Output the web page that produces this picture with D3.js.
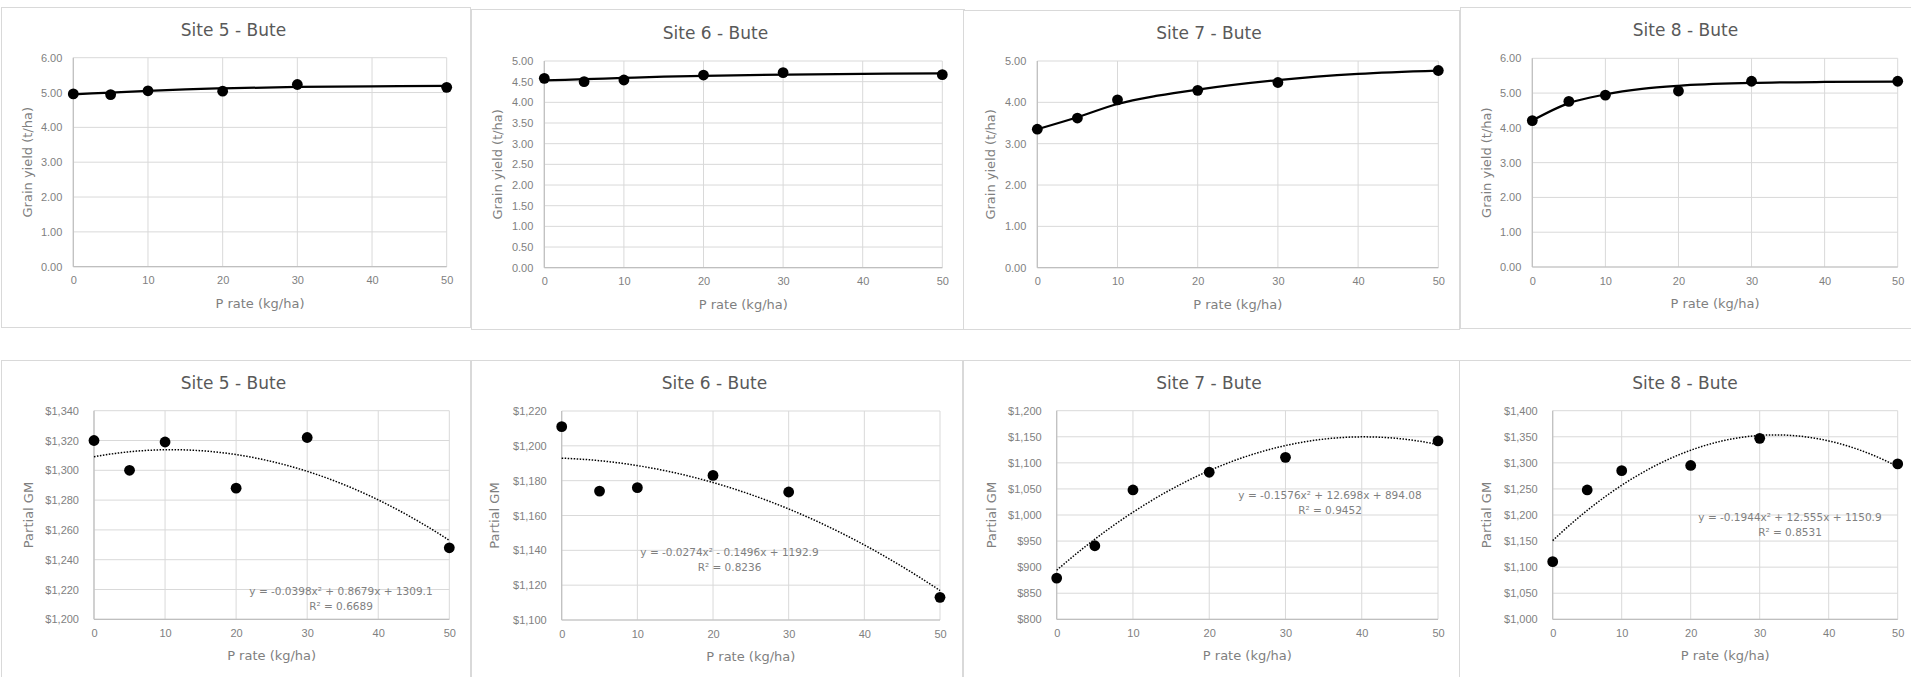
<!DOCTYPE html>
<html>
<head>
<meta charset="utf-8">
<script src="https://cdn.jsdelivr.net/npm/d3@7"></script>
<style>
  body { margin: 0; background: #fff; }
  svg { display: block; font-family: "Century Gothic", "DejaVu Sans", sans-serif; }
</style>
</head>
<body>
<svg id="chart" width="1911" height="677"></svg>
<script>
// ---- data ----
const pRates = [0, 5, 10, 20, 30, 50];
const xTicks = [0, 10, 20, 30, 40, 50];
const fitRates = [0, 5, 10, 15, 20, 30, 40, 50];

const siteNames = ["Site 5 - Bute", "Site 6 - Bute", "Site 7 - Bute", "Site 8 - Bute"];

// grain yield (t/ha)
const yieldSite5 = [4.96, 4.94, 5.05, 5.04, 5.23, 5.15];
const yieldSite6 = [4.58, 4.50, 4.54, 4.66, 4.72, 4.67];
const yieldSite7 = [3.35, 3.62, 4.06, 4.29, 4.48, 4.77];
const yieldSite8 = [4.21, 4.76, 4.94, 5.06, 5.34, 5.34];

// fitted response curve, read at fitRates
const yieldFitSite5 = [4.95, 5.00, 5.05, 5.09, 5.12, 5.16, 5.18, 5.19];
const yieldFitSite6 = [4.53, 4.56, 4.59, 4.62, 4.64, 4.67, 4.69, 4.70];
const yieldFitSite7 = [3.35, 3.64, 3.96, 4.16, 4.31, 4.54, 4.69, 4.77];
const yieldFitSite8 = [4.21, 4.71, 4.96, 5.12, 5.21, 5.29, 5.32, 5.33];

const yTicksYield5 = [0, 1, 2, 3, 4, 5, 6];
const yTicksYield6 = [0, 0.5, 1, 1.5, 2, 2.5, 3, 3.5, 4, 4.5, 5];
const yTicksYield7 = [0, 1, 2, 3, 4, 5];
const yTicksYield8 = [0, 1, 2, 3, 4, 5, 6];

// partial gross margin ($/ha)
const gmSite5 = [1320, 1300, 1319, 1288, 1322, 1248];
const gmSite6 = [1211, 1174, 1176, 1183, 1173.5, 1113];
const gmSite7 = [879, 941, 1048, 1082, 1110.5, 1142];
const gmSite8 = [1110.5, 1248, 1285, 1295, 1347, 1298];

const yTicksGm5 = [1200, 1220, 1240, 1260, 1280, 1300, 1320, 1340];
const yTicksGm6 = [1100, 1120, 1140, 1160, 1180, 1200, 1220];
const yTicksGm7 = [800, 850, 900, 950, 1000, 1050, 1100, 1150, 1200];
const yTicksGm8 = [1000, 1050, 1100, 1150, 1200, 1250, 1300, 1350, 1400];

// polynomial trendlines as printed on the chart (a x^2 + b x + c)
const trendSite5 = [-0.0398, 0.8679, 1309.1];
const trendSite6 = [-0.0274, -0.1496, 1192.9];
const trendSite7 = [-0.1576, 12.698, 894.08];
const trendSite8 = [-0.1944, 12.555, 1150.9];

const eqSite5 = ["y = -0.0398x² + 0.8679x + 1309.1", "R² = 0.6689"];
const eqSite6 = ["y = -0.0274x² - 0.1496x + 1192.9", "R² = 0.8236"];
const eqSite7 = ["y = -0.1576x² + 12.698x + 894.08", "R² = 0.9452"];
const eqSite8 = ["y = -0.1944x² + 12.555x + 1150.9", "R² = 0.8531"];

// ---- layout (pixels) ----
// box: [x0, y0, x1, y1], plot: [left, top, right, bottom]
const topLayout = [
  { box: [1, 7, 470, 327],    plot: [73.3, 57.7, 446.7, 266.7],   titleY: 36, yTitleX: 32,   xTitleY: 307.5 },
  { box: [471, 9, 964, 329],  plot: [544.3, 61, 942.3, 267.7],    titleY: 39, yTitleX: 502,  xTitleY: 309 },
  { box: [963, 10, 1459, 329], plot: [1037.3, 61, 1438.3, 267.7], titleY: 39, yTitleX: 995,  xTitleY: 309 },
  { box: [1460, 7, 1915, 328], plot: [1532.3, 58.3, 1897.7, 267], titleY: 36, yTitleX: 1491, xTitleY: 308 }
];
const bottomLayout = [
  { box: [1, 360, 470, 680],    plot: [94, 410.7, 449.3, 619.3],    titleY: 389, yTitleX: 33,   xTitleY: 660, eqX: 341,  eqY: 594.5 },
  { box: [471, 360, 962, 680],  plot: [561.7, 411, 940, 620],       titleY: 389, yTitleX: 499,  xTitleY: 660.5, eqX: 729.5, eqY: 556 },
  { box: [963, 360, 1459, 680], plot: [1056.7, 410.7, 1438, 619.3], titleY: 389, yTitleX: 995.5, xTitleY: 660, eqX: 1330, eqY: 499 },
  { box: [1459, 360, 1915, 680], plot: [1552.7, 410.7, 1897.7, 619.3], titleY: 389, yTitleX: 1491, xTitleY: 660, eqX: 1790, eqY: 521 }
];

const yieldSeries = [yieldSite5, yieldSite6, yieldSite7, yieldSite8];
const yieldFits = [yieldFitSite5, yieldFitSite6, yieldFitSite7, yieldFitSite8];
const yieldTicks = [yTicksYield5, yTicksYield6, yTicksYield7, yTicksYield8];
const gmSeries = [gmSite5, gmSite6, gmSite7, gmSite8];
const gmTicks = [yTicksGm5, yTicksGm6, yTicksGm7, yTicksGm8];
const trends = [trendSite5, trendSite6, trendSite7, trendSite8];
const equations = [eqSite5, eqSite6, eqSite7, eqSite8];

const svg = d3.select("#chart");
const gridColor = "#d9d9d9";
const tickColor = "#7f7f7f";

// boxes first so neighbouring borders don't cover plots
topLayout.concat(bottomLayout).forEach(l => {
  svg.append("rect")
    .attr("x", l.box[0] + 0.5).attr("y", l.box[1] + 0.5)
    .attr("width", l.box[2] - l.box[0]).attr("height", l.box[3] - l.box[1])
    .attr("fill", "#fff").attr("stroke", gridColor).attr("stroke-width", 1);
});

function drawFrame(l, ticks, fmt, title, yTitle, tickPad) {
  const [pl, pt, pr, pb] = l.plot;
  const x = d3.scaleLinear().domain([0, 50]).range([pl, pr]);
  const y = d3.scaleLinear().domain(d3.extent(ticks)).range([pb, pt]);
  const g = svg.append("g");

  // gridlines
  g.selectAll(".hgrid").data(ticks).join("line")
    .attr("x1", pl).attr("x2", pr)
    .attr("y1", d => y(d)).attr("y2", d => y(d))
    .attr("stroke", gridColor).attr("stroke-width", 1);
  g.selectAll(".vgrid").data(xTicks).join("line")
    .attr("x1", d => x(d)).attr("x2", d => x(d))
    .attr("y1", pt).attr("y2", pb)
    .attr("stroke", gridColor).attr("stroke-width", 1);

  // axis lines
  g.append("line").attr("x1", pl).attr("x2", pr).attr("y1", pb).attr("y2", pb)
    .attr("stroke", "#bfbfbf").attr("stroke-width", 1.2);
  g.append("line").attr("x1", pl).attr("x2", pl).attr("y1", pt).attr("y2", pb)
    .attr("stroke", "#bfbfbf").attr("stroke-width", 1.2);

  // tick labels
  const xAxis = g.append("g").attr("transform", `translate(0,${pb})`)
    .call(d3.axisBottom(x).tickValues(xTicks).tickSize(0).tickPadding(10));
  const yAxis = g.append("g").attr("transform", `translate(${pl},0)`)
    .call(d3.axisLeft(y).tickValues(ticks).tickFormat(fmt).tickSize(0).tickPadding(tickPad));
  [xAxis, yAxis].forEach(a => {
    a.select(".domain").remove();
    a.selectAll("text").attr("fill", tickColor).style("font-size", "11px")
      .style("font-family", "inherit");
  });

  // titles
  svg.append("text").attr("x", (l.box[0] + l.box[2]) / 2 - 2).attr("y", l.titleY)
    .attr("text-anchor", "middle").attr("fill", "#595959").style("font-size", "17px")
    .text(title);
  svg.append("text").attr("x", (pl + pr) / 2).attr("y", l.xTitleY)
    .attr("text-anchor", "middle").attr("fill", tickColor).style("font-size", "13px")
    .text("P rate (kg/ha)");
  svg.append("text")
    .attr("transform", `translate(${l.yTitleX},${(pt + pb) / 2}) rotate(-90)`)
    .attr("text-anchor", "middle").attr("fill", tickColor).style("font-size", "13px")
    .text(yTitle);

  return { x, y, g };
}

// top row: grain yield with fitted response curve
topLayout.forEach((l, i) => {
  const { x, y, g } = drawFrame(l, yieldTicks[i], d3.format(".2f"), siteNames[i], "Grain yield (t/ha)", 11);
  const line = d3.line().x(d => x(d[0])).y(d => y(d[1])).curve(d3.curveMonotoneX);
  g.append("path")
    .datum(fitRates.map((r, k) => [r, yieldFits[i][k]]))
    .attr("d", line).attr("fill", "none").attr("stroke", "#000").attr("stroke-width", 2.25);
  g.selectAll(".pt").data(pRates.map((r, k) => [r, yieldSeries[i][k]])).join("circle")
    .attr("cx", d => x(d[0])).attr("cy", d => y(d[1])).attr("r", 5.4).attr("fill", "#000");
});

// bottom row: partial GM with quadratic trendline
bottomLayout.forEach((l, i) => {
  const { x, y, g } = drawFrame(l, gmTicks[i], d3.format("$,"), siteNames[i], "Partial GM", 15);
  const [a, b, c] = trends[i];
  const trendPts = d3.range(0, 50.01, 0.5).map(r => [r, a * r * r + b * r + c]);
  g.append("path")
    .datum(trendPts)
    .attr("d", d3.line().x(d => x(d[0])).y(d => y(d[1])))
    .attr("fill", "none").attr("stroke", "#000").attr("stroke-width", 1.5)
    .attr("stroke-dasharray", "1.5,1.5");
  g.selectAll(".pt").data(pRates.map((r, k) => [r, gmSeries[i][k]])).join("circle")
    .attr("cx", d => x(d[0])).attr("cy", d => y(d[1])).attr("r", 5.4).attr("fill", "#000");
  equations[i].forEach((t, k) => {
    svg.append("text").attr("x", l.eqX).attr("y", l.eqY + k * 15)
      .attr("text-anchor", "middle").attr("fill", tickColor).style("font-size", "10.5px")
      .text(t);
  });
});
</script>
</body>
</html>
